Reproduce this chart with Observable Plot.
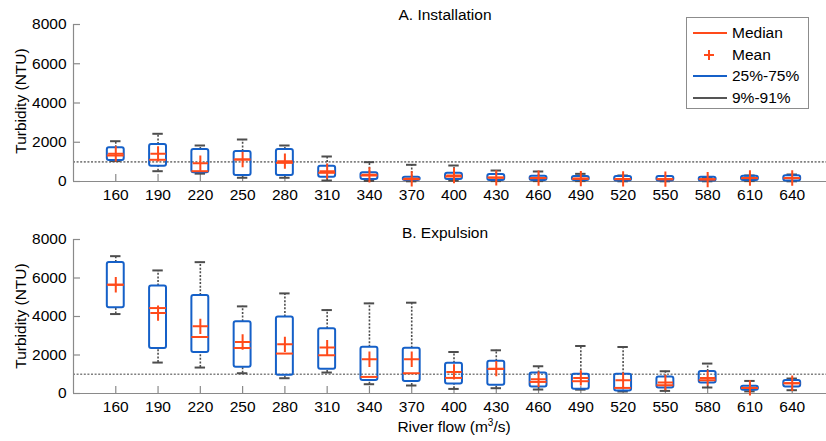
<!DOCTYPE html>
<html>
<head>
<meta charset="utf-8">
<script src="https://cdn.jsdelivr.net/npm/d3@7"></script>
<script src="https://cdn.jsdelivr.net/npm/@observablehq/plot@0.6"></script>
<style>
  body { margin: 0; background: #fff; font-family: "Liberation Sans", Arial, sans-serif; }
  #wrap { position: relative; width: 826px; height: 441px; overflow: hidden; background: #fff; }
  .pan { position: absolute; left: 0; }
  .t { position: absolute; font-size: 15.5px; color: #000; white-space: nowrap; transform: translate(-50%, -50%); }
  .yl { position: absolute; font-size: 15.5px; color: #000; white-space: nowrap; transform: translate(-50%, -50%) rotate(-90deg); }
  #legend { position: absolute; left: 686px; top: 17px; width: 121px; height: 90px; border: 1px solid #8c8c8c; background: #fff; }
  #legend .row { position: absolute; left: 5px; height: 20px; display: flex; align-items: center; font-size: 15.5px; }
  #legend svg { margin-right: 4px; }
</style>
</head>
<body>
<div id="wrap"></div>
<script>
// ---- data ----
const flows = [160, 190, 220, 250, 280, 310, 340, 370, 400, 430, 460, 490, 520, 550, 580, 610, 640];
const yTicks = [0, 2000, 4000, 6000, 8000];
const refLevel = 1000;

// A. Installation
const instHi     = [2053, 2431, 1834, 2140, 1834, 1274, 985, 850, 815, 560, 510, 390, 306, 280, 200, 306, 357];
const instQ3     = [1717, 1885, 1631, 1529, 1631, 780, 443, 219, 423, 357, 272, 255, 255, 255, 220, 272, 290];
const instMedian = [1325, 1106, 525, 1121, 950, 443, 306, 117, 255, 204, 170, 136, 119, 120, 120, 170, 170];
const instMean   = [1411, 1411, 933, 1121, 1036, 525, 340, 137, 306, 187, 175, 150, 130, 120, 100, 180, 180];
const instQ1     = [1070, 780, 443, 306, 306, 221, 100, 50, 100, 50, 50, 50, 20, 20, 20, 50, 20];
const instLo     = [1040, 525, 400, 190, 190, 50, 25, 10, 40, 20, 20, 20, 10, 10, 10, 20, 10];

// B. Expulsion
const expHi     = [7134, 6393, 6823, 4526, 5200, 4334, 4682, 4717, 2157, 2245, 1415, 2468, 2416, 1156, 1555, 653, 778];
const expQ3     = [6807, 5579, 5096, 3733, 3971, 3370, 2400, 2349, 1571, 1675, 1068, 1001, 1001, 861, 1141, 378, 674];
const expMedian = [5651, 4438, 2934, 2364, 2074, 1986, 861, 1052, 809, 1275, 601, 638, 290, 430, 690, 290, 534];
const expMean   = [5651, 4179, 3489, 2675, 2556, 2385, 1778, 1778, 1120, 1290, 741, 809, 690, 570, 809, 290, 534];
const expQ1     = [4459, 2333, 2126, 1364, 949, 1260, 674, 622, 498, 430, 342, 223, 135, 290, 550, 171, 342];
const expLo     = [4127, 1607, 1348, 1052, 793, 1089, 482, 415, 238, 275, 207, 200, 104, 135, 311, 110, 171];

// ---- styles ----
const BLUE = "#1560c8", RED = "#ff4a1a", GRAY = "#4d4d4d", AX = "#8a8a8a";
const xDomain = [130, 670];
const boxHalf = 6, capHalf = 3.7;
const FONT = "'Liberation Sans', Arial, sans-serif";

function rowsOf(hi, q3, med, mean, q1, lo) {
  return flows.map((f, i) => ({flow: f, hi: hi[i], q3: q3[i], median: med[i], mean: mean[i], q1: q1[i], lo: lo[i]}));
}

function panel(rows, height, mt, mb) {
  const W = 826, ml = 73, mr = -8;
  const fw = W - ml - mr, fh = height - mt - mb;
  return Plot.plot({
    width: W, height, marginLeft: ml, marginRight: mr, marginTop: mt, marginBottom: mb,
    x: {domain: xDomain},
    y: {domain: [0, 8000]},
    style: {fontSize: "15.5px", fontFamily: FONT, color: "#000", background: "transparent", overflow: "visible"},
    marks: [
      Plot.ruleY([refLevel], {stroke: "#808080", strokeWidth: 1.6, strokeDasharray: "2,1.6"}),
      Plot.ruleX([xDomain[0]], {stroke: AX, strokeWidth: 1.2}),
      Plot.ruleY([0], {stroke: AX, strokeWidth: 1.2}),
      Plot.tickY(yTicks, {y: d => d, stroke: AX, strokeWidth: 1.2, insetRight: fw - 7}),
      Plot.tickX(flows, {x: d => d, stroke: AX, strokeWidth: 1.2, insetTop: fh - 7}),
      Plot.axisY({ticks: yTicks, tickSize: 0, tickPadding: 7, tickFormat: d => String(d), label: null, fill: "#000"}),
      Plot.axisX({ticks: flows, tickSize: 0, tickPadding: 7, tickFormat: d => String(d), label: null, fill: "#000"}),
      // whiskers (dotted)
      Plot.ruleX(rows, {x: "flow", y1: "q3", y2: "hi", stroke: GRAY, strokeWidth: 1.6, strokeDasharray: "2,1.6"}),
      Plot.ruleX(rows, {x: "flow", y1: "lo", y2: "q1", stroke: GRAY, strokeWidth: 1.6, strokeDasharray: "2,1.6"}),
      // caps
      Plot.ruleY(rows, {y: "hi", x1: d => d.flow - capHalf, x2: d => d.flow + capHalf, stroke: GRAY, strokeWidth: 2}),
      Plot.ruleY(rows, {y: "lo", x1: d => d.flow - capHalf, x2: d => d.flow + capHalf, stroke: GRAY, strokeWidth: 2}),
      // boxes
      Plot.rect(rows, {x1: d => d.flow - boxHalf, x2: d => d.flow + boxHalf, y1: "q1", y2: "q3", fill: "none", stroke: BLUE, strokeWidth: 2, rx: 2}),
      // median
      Plot.ruleY(rows, {y: "median", x1: d => d.flow - boxHalf, x2: d => d.flow + boxHalf, stroke: RED, strokeWidth: 2}),
      // mean
      Plot.dot(rows, {x: "flow", y: "mean", symbol: "plus", r: 5, stroke: RED, strokeWidth: 2})
    ]
  });
}

const wrap = document.getElementById("wrap");

const pA = panel(rowsOf(instHi, instQ3, instMedian, instMean, instQ1, instLo), 210, 24, 29);
pA.classList.add("pan"); pA.style.top = "0px";
wrap.appendChild(pA);

const pB = panel(rowsOf(expHi, expQ3, expMedian, expMean, expQ1, expLo), 231, 29, 48);
pB.classList.add("pan"); pB.style.top = "210px";
wrap.appendChild(pB);

function addText(cls, txt, x, y, html) {
  const d = document.createElement("div");
  d.className = cls;
  if (html) d.innerHTML = txt; else d.textContent = txt;
  d.style.left = x + "px"; d.style.top = y + "px";
  wrap.appendChild(d);
}
addText("t", "A. Installation", 445, 15);
addText("t", "B. Expulsion", 445, 233);
addText("t", "River flow (m<sup style='font-size:10px;vertical-align:6px;line-height:0'>3</sup>/s)", 454, 427, true);
addText("yl", "Turbidity (NTU)", 21, 101);
addText("yl", "Turbidity (NTU)", 21, 316);

// legend
const legendItems = [
  {label: "Median", kind: "line", color: RED},
  {label: "Mean", kind: "plus", color: RED},
  {label: "25%-75%", kind: "line", color: BLUE},
  {label: "9%-91%", kind: "line", color: "#555"}
];
const lg = document.createElement("div");
lg.id = "legend";
legendItems.forEach((it, i) => {
  const r = document.createElement("div");
  r.className = "row";
  r.style.top = (5 + i * 21.5) + "px";
  const sym = it.kind === "line"
    ? `<svg width="36" height="10"><line x1="1" x2="35" y1="5" y2="5" stroke="${it.color}" stroke-width="2"/></svg>`
    : `<svg width="36" height="12"><path d="M12,6H22M17,1V11" stroke="${it.color}" stroke-width="2" fill="none"/></svg>`;
  r.innerHTML = sym + `<span>${it.label}</span>`;
  lg.appendChild(r);
});
wrap.appendChild(lg);
</script>
</body>
</html>
